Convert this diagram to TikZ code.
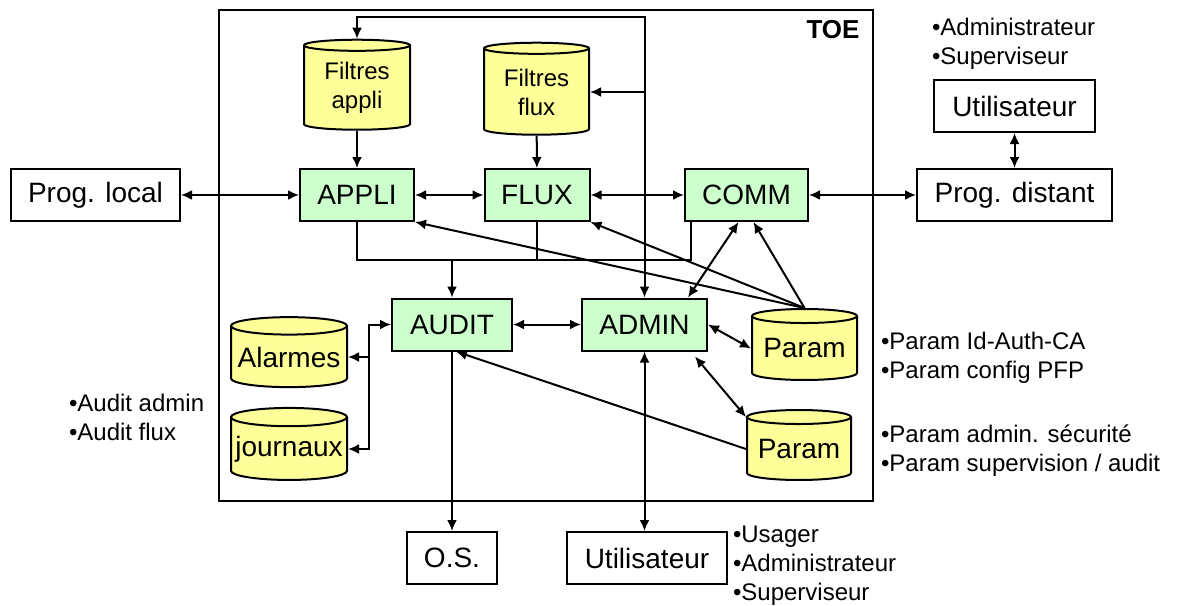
\documentclass[tikz,border=0pt]{standalone}
\usepackage{fontspec}
\setmainfont{Liberation Sans}
\usetikzlibrary{shapes.geometric,arrows.meta}
\definecolor{boxgreen}{RGB}{204,255,204}
\definecolor{dbyellow}{RGB}{255,255,153}
\begin{document}
\begin{tikzpicture}
    [x=1pt, y=-1pt, line width=2pt, >={Latex[length=11pt,width=10pt]},
    module/.style={rectangle, draw, fill=boxgreen, minimum width=#1, minimum height=52pt, inner sep=0pt, font=\fontsize{28}{32}\selectfont},
    outside/.style={rectangle, draw, fill=white, minimum width=#1, minimum height=52pt, inner sep=0pt, font=\fontsize{28}{32}\selectfont},
    dbase/.style 2 args={cylinder, shape border rotate=90, aspect=0.17, draw, fill=dbyellow, minimum width=#1, minimum height=#2, inner sep=0pt, font=\fontsize{28}{32}\selectfont},
    note/.style={anchor=north west, inner sep=0pt, align=left, font=\fontsize{24}{29}\selectfont}]
    \useasboundingbox (0,0) rectangle (1180,605);
    \node[draw, minimum width=654pt, minimum height=491pt, inner sep=0pt] (toe) at (546,255.5) {};
    \node[font=\bfseries\fontsize{26}{30}\selectfont] (toelbl) at (833,30) {TOE};

    \node[outside=169pt] (pl) at (95.5,195) {Prog. local};
    \node[module=114pt] (ap) at (357,195) {APPLI};
    \node[module=105pt] (fx) at (537,195) {FLUX};
    \node[module=123pt] (cm) at (746.5,195) {COMM};
    \node[outside=195pt] (pd) at (1014.5,195) {Prog. distant};
    \node[outside=161pt] (ut) at (1014.5,106) {Utilisateur};
    \node[module=120pt] (au) at (452,324.5) {AUDIT};
    \node[module=125pt] (adm) at (644.5,324.5) {ADMIN};
    \node[outside=90pt] (os) at (452,558) {O.S.};
    \node[outside=160pt] (ub) at (647,558) {Utilisateur};

    \node[dbase={106pt}{90pt}, align=center, font=\fontsize{24}{29}\selectfont] (fa) at (357,88) {Filtres\\appli};
    \node[dbase={105pt}{92pt}, align=center, font=\fontsize{24}{29}\selectfont] (ff) at (536.5,92) {Filtres\\flux};
    \node[dbase={116pt}{70pt}] (al) at (289,357) {Alarmes};
    \node[dbase={116pt}{72pt}] (jr) at (289,449) {journaux};
    \node[dbase={105pt}{71pt}] (p1) at (804.5,348.5) {Param};
    \node[dbase={104pt}{70pt}] (p2) at (799,449) {Param};

    \node[note] (nut) at (931,17.5) {•Administrateur\\•Superviseur};
    \node[note] (nub) at (732,525) {•Usager\\•Administrateur\\•Superviseur};
    \node[note] (naud) at (68,393) {•Audit admin\\•Audit flux};
    \node[note] (np1) at (880,331) {•Param Id-Auth-CA\\•Param config PFP};
    \node[note] (np2) at (880,424) {•Param admin. sécurité\\•Param supervision / audit};

    \coordinate (bus) at (452,260);
    \coordinate (tap) at (369,357);

    \draw[<->] (pl) -- (ap);
    \draw[<->] (ap) -- (fx);
    \draw[<->] (fx) -- (cm);
    \draw[<->] (cm) -- (pd);
    \draw[<->] (ut) -- (pd);
    \draw[->] (fa) -- (ap);
    \draw[->] (ff) -- (fx);

    \draw[<->] (adm.north) -- ++(0,-281) -| (fa.north);
    \draw[->] (adm.north |- ff.east) -- (ff.east);

    \draw (ap.south) |- (bus) -| ([xshift=7pt]cm.south west);
    \draw (fx.south) -- (fx.south |- bus);
    \draw[->] (bus) -- (au.north);

    \draw[->] (p1.north) -- (ap.south east);
    \draw[->] (p1.north) -- (fx.south east);
    \draw[->] (p1.north) -- ([xshift=7pt]cm.south);
    \draw[<->] ([xshift=-20pt]adm.north east) -- ([xshift=-8pt]cm.south);
    \draw[<->] (adm.east) -- (p1.west);
    \draw[<->] ([xshift=-13pt,yshift=-5pt]adm.south east) -- ([yshift=32pt]p2.west);
    \draw[->] (p2.west) -- ([xshift=4pt]au.south);

    \draw[<->] (au) -- (adm);
    \draw[<->] (au.west) -| (tap) |- (jr.east);
    \draw[->] (tap) -- (al.east);
    \draw[->] (au) -- (os);
    \draw[<->] (adm.south) -- (adm.south |- ub.north);
\end{tikzpicture}
\end{document}
